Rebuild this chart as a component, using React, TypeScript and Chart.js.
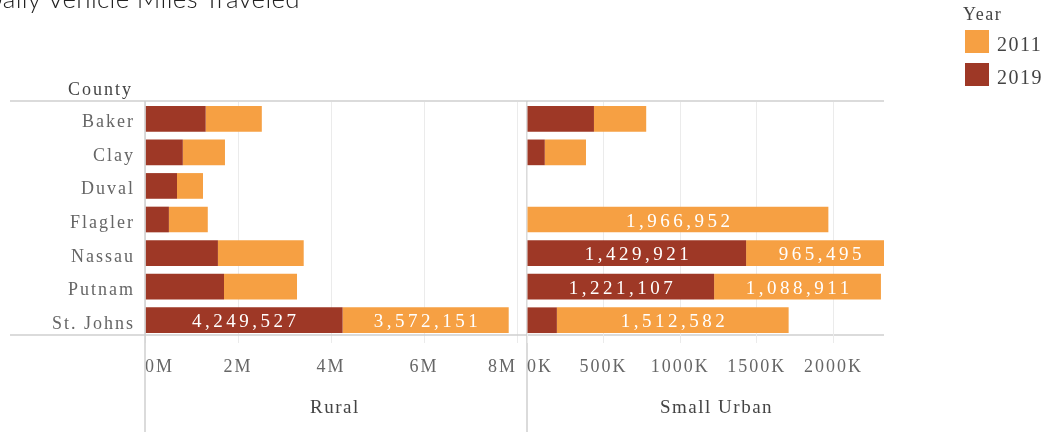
import React, { useEffect, useRef } from 'react';
import { Chart, registerables } from 'chart.js';

Chart.register(...registerables);

// ---------- data ----------
const counties = ['Baker', 'Clay', 'Duval', 'Flagler', 'Nassau', 'Putnam', 'St. Johns'];
const years = ['2011', '2019'];

const rural2019 = [1305000, 813000, 688000, 514000, 1568000, 1699000, 4249527];
const rural2011 = [1207000, 907000, 559000, 836000, 1845000, 1570000, 3572151];
const urban2019 = [437000, 116000, 0, 0, 1429921, 1221107, 195000];
const urban2011 = [341000, 269000, 0, 1966952, 965495, 1088911, 1512582];

const ruralTicks = [0, 2000000, 4000000, 6000000, 8000000];
const urbanTicks = [0, 500000, 1000000, 1500000, 2000000];

const panels = ['Rural', 'Small Urban'];

// ---------- style ----------
const C2011 = '#F6A043';
const C2019 = '#9E3826';
const yearColors = [C2011, C2019];
const FONT = '"Liberation Serif", "Times New Roman", serif';
const W = 1049;
const H = 434;
const GRID = '#ebebeb';

const frameLines = {
  id: 'frameLines',
  afterDraw(chart: any) {
    const ctx = chart.ctx;
    ctx.save();
    ctx.strokeStyle = '#cfcfcf';
    ctx.lineWidth = 1.5;
    ctx.beginPath();
    ctx.moveTo(10, 101); ctx.lineTo(884, 101);
    ctx.moveTo(10, 335); ctx.lineTo(884, 335);
    ctx.moveTo(145, 101); ctx.lineTo(145, 432);
    ctx.moveTo(527, 101); ctx.lineTo(527, 432);
    ctx.stroke();
    ctx.restore();
  },
};

const spacing = {
  id: 'spacing',
  beforeDraw(chart: any) {
    (chart.ctx as any).letterSpacing = '2px';
  },
};

const yLabels = {
  id: 'yLabels',
  afterDraw(chart: any) {
    const ctx = chart.ctx;
    const ys = chart.scales.y;
    ctx.save();
    (ctx as any).letterSpacing = '2px';
    ctx.font = `18px ${FONT}`;
    ctx.fillStyle = '#666';
    ctx.textAlign = 'right';
    ctx.textBaseline = 'alphabetic';
    counties.forEach((c, i) => {
      ctx.fillText(c, 135, ys.getPixelForValue(i) + 8.5);
    });
    ctx.restore();
  },
};

const valueLabels = {
  id: 'valueLabels',
  afterDatasetsDraw(chart: any) {
    const ctx = chart.ctx;
    ctx.save();
    (ctx as any).letterSpacing = '3.5px';
    ctx.font = `19px ${FONT}`;
    ctx.fillStyle = '#fff';
    ctx.textAlign = 'center';
    ctx.textBaseline = 'alphabetic';
    chart.data.datasets.forEach((ds: any, di: number) => {
      const meta = chart.getDatasetMeta(di);
      meta.data.forEach((el: any, i: number) => {
        const v = ds.data[i] as number;
        const w = Math.abs(el.x - el.base);
        if (!v || w < 100) return;
        ctx.fillText(v.toLocaleString('en-US'), (el.x + el.base) / 2 + 1.75, el.y + 7);
      });
    });
    ctx.restore();
  },
};

function panelConfig(
  d2019: number[],
  d2011: number[],
  max: number,
  ticks: number[],
  fmt: (v: number) => string,
  padding: any,
  showY: boolean,
  extra: any[]
): any {
  const sentinel = !ticks.includes(max);
  const allTicks = sentinel ? [...ticks, max] : ticks;
  const gridColor = (c: any) => (sentinel && c.tick && c.tick.value === max ? 'rgba(0,0,0,0)' : GRID);
  return {
    type: 'bar',
    data: {
      labels: counties,
      datasets: [
        { label: years[1], data: d2019, backgroundColor: C2019, borderWidth: 0, barPercentage: 0.765, categoryPercentage: 1 },
        { label: years[0], data: d2011, backgroundColor: C2011, borderWidth: 0, barPercentage: 0.765, categoryPercentage: 1 },
      ],
    },
    options: {
      indexAxis: 'y',
      responsive: false,
      animation: false,
      devicePixelRatio: 1,
      layout: { padding },
      plugins: {
        legend: { display: false },
        title: { display: false },
        tooltip: { enabled: false },
      },
      scales: {
        x: {
          type: 'linear',
          stacked: true,
          min: 0,
          max,
          afterBuildTicks: (s: any) => {
            s.ticks = allTicks.map((v) => ({ value: v }));
          },
          afterFit: (s: any) => {
            s.height = 97;
          },
          grid: { color: gridColor, tickColor: gridColor, tickLength: 6, drawTicks: true, lineWidth: 1 },
          border: { display: false },
          ticks: {
            align: 'inner',
            color: '#666',
            font: { family: FONT, size: 18 },
            padding: 13,
            maxRotation: 0,
            autoSkip: false,
            callback: (v: any) => (sentinel && Number(v) === max ? '' : fmt(Number(v))),
          },
        },
        y: {
          type: 'category',
          stacked: true,
          display: showY,
          afterFit: (s: any) => {
            s.width = showY ? 145 : 0;
          },
          grid: { display: false },
          border: { display: false },
          ticks: { display: false },
        },
      },
    },
    plugins: [spacing, ...extra, valueLabels],
  };
}

function SerifText(props: { text: string; left: number; baseline: number; size: number; color: string; ls: number }) {
  const { text, left, baseline, size, color, ls } = props;
  return (
    <div
      style={{
        position: 'absolute',
        left,
        top: baseline - 0.8375 * size,
        fontFamily: FONT,
        fontSize: size,
        lineHeight: `${size}px`,
        color,
        letterSpacing: `${ls}px`,
        whiteSpace: 'nowrap',
      }}
    >
      {text}
    </div>
  );
}

export default function App() {
  const ref1 = useRef<HTMLCanvasElement>(null);
  const ref2 = useRef<HTMLCanvasElement>(null);

  useEffect(() => {
    const c1 = new Chart(
      ref1.current as HTMLCanvasElement,
      panelConfig(
        rural2019,
        rural2011,
        8000000,
        ruralTicks,
        (v) => `${v / 1000000}M`,
        { left: 0, top: 102, right: W - 517, bottom: 0 },
        true,
        [frameLines, yLabels]
      )
    );
    const c2 = new Chart(
      ref2.current as HTMLCanvasElement,
      panelConfig(
        urban2019,
        urban2011,
        2330000,
        urbanTicks,
        (v) => `${v / 1000}K`,
        { left: 527, top: 102, right: W - 884, bottom: 0 },
        false,
        []
      )
    );
    return () => {
      c1.destroy();
      c2.destroy();
    };
  }, []);

  return (
    <div style={{ position: 'absolute', left: 0, top: 0, width: W, height: H, overflow: 'hidden', background: '#fff' }}>
      <canvas ref={ref1} width={W} height={H} style={{ position: 'absolute', left: 0, top: 0 }} />
      <canvas ref={ref2} width={W} height={H} style={{ position: 'absolute', left: 0, top: 0 }} />
      <div
        style={{
          position: 'absolute',
          right: W - 300,
          top: 8 - 0.887 * 26,
          fontFamily: 'Lato, "Open Sans", sans-serif',
          fontWeight: 300,
          fontSize: 26,
          lineHeight: '26px',
          letterSpacing: '0.3px',
          color: '#222',
          whiteSpace: 'nowrap',
        }}
      >
        Daily Vehicle Miles Traveled
      </div>
      <SerifText text="County" left={68} baseline={95} size={18} color="#444" ls={2} />
      <SerifText text={panels[0]} left={310} baseline={412.5} size={19} color="#444" ls={1.5} />
      <SerifText text={panels[1]} left={660} baseline={412.5} size={19} color="#444" ls={1.5} />
      <SerifText text="Year" left={963} baseline={20} size={18} color="#444" ls={1.5} />
      {years.map((y, i) => (
        <React.Fragment key={y}>
          <div
            style={{
              position: 'absolute',
              left: 965,
              top: 30 + i * 33,
              width: 24,
              height: 23,
              background: yearColors[i],
            }}
          />
          <SerifText text={y} left={997} baseline={50.7 + i * 33.3} size={20} color="#444" ls={1.5} />
        </React.Fragment>
      ))}
    </div>
  );
}
